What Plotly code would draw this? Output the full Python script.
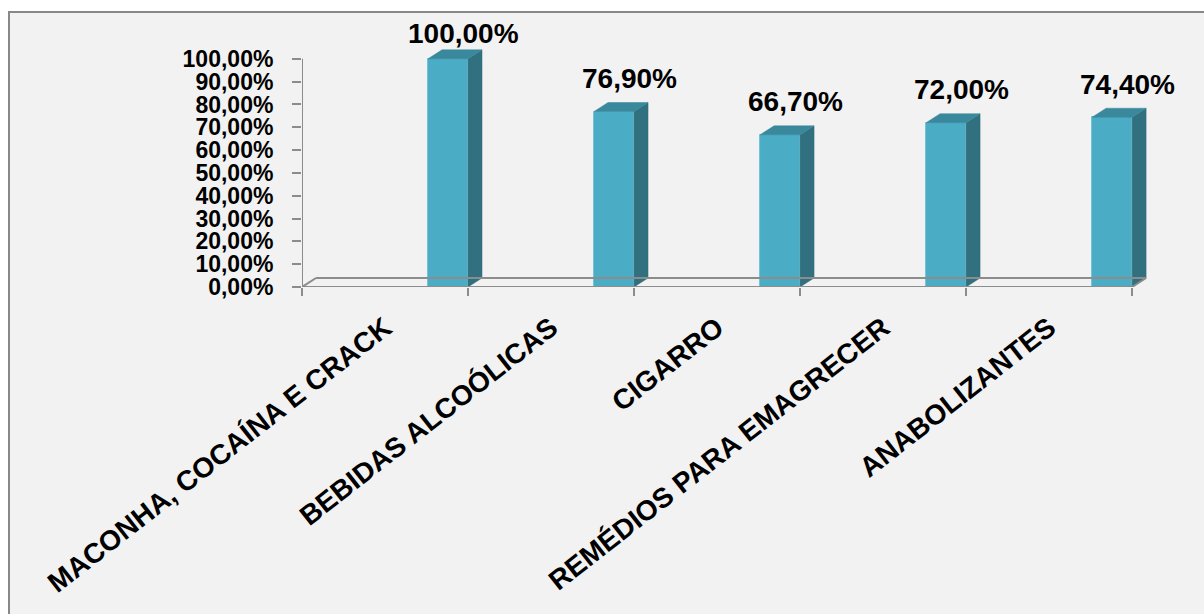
import plotly.graph_objects as go

# Data
categories = ["MACONHA, COCAÍNA E CRACK", "BEBIDAS ALCOÓLICAS", "CIGARRO",
              "REMÉDIOS PARA EMAGRECER", "ANABOLIZANTES"]
values = [100.0, 76.9, 66.7, 72.0, 74.4]
value_labels = ["100,00%", "76,90%", "66,70%", "72,00%", "74,40%"]
y_ticks = [0, 10, 20, 30, 40, 50, 60, 70, 80, 90, 100]
y_tick_labels = ["0,00%", "10,00%", "20,00%", "30,00%", "40,00%", "50,00%",
                 "60,00%", "70,00%", "80,00%", "90,00%", "100,00%"]

# Figure geometry (pixels)
W, H = 1204, 614
ML, MR, MT, MB = 302, 47, 36, 327
X_RANGE = [-0.5, 4.65]
Y_RANGE = [0, 110]
px_x = (W - ML - MR) / (X_RANGE[1] - X_RANGE[0])
px_y = (H - MT - MB) / (Y_RANGE[1] - Y_RANGE[0])

# 3D depth offset of the column blocks, in data units
DX = 14 / px_x
DY = 9 / px_y
BAR_OFFSET = 0.259
BAR_WIDTH = 0.241

FRONT = "#4bacc6"
SIDE = "#31707f"
TOP = "#3a889c"
AXIS = "#8c8c8c"
FONT = "Liberation Sans"

def to_paper_x(px):
    return (px - ML) / (W - ML - MR)

def to_paper_y(py):
    return (H - MB - py) / (H - MT - MB)

fig = go.Figure()

# Floor of the 3D plot
n = len(categories)
x0, x1 = -0.5, n - 0.5
fig.add_trace(go.Scatter(
    x=[x0, x1, None, x0 + DX, x1 + DX, None, x0, x0 + DX, None, x1, x1 + DX],
    y=[0, 0, None, DY, DY, None, 0, DY, None, 0, DY],
    mode="lines", line=dict(color=AXIS, width=2),
    hoverinfo="skip", showlegend=False, xaxis="x2", yaxis="y"))

# Columns: front face, side face and top face
pos = list(range(n))
fig.add_trace(go.Bar(
    x=pos, y=values, offset=BAR_OFFSET, width=BAR_WIDTH,
    marker=dict(color=FRONT, line=dict(color="#5fb9d0", width=0.8)),
    showlegend=False, hoverinfo="skip"))

for i, v in zip(pos, values):
    xl = i + BAR_OFFSET
    xr = xl + BAR_WIDTH
    fig.add_trace(go.Scatter(
        x=[xr, xr, xr + DX, xr + DX, xr], y=[0, v, v + DY, DY, 0],
        mode="lines", fill="toself", fillcolor=SIDE,
        line=dict(color=SIDE, width=0.5), hoverinfo="skip", showlegend=False))
    fig.add_trace(go.Scatter(
        x=[xl, xr, xr + DX, xl + DX, xl], y=[v, v, v + DY, v + DY, v],
        mode="lines", fill="toself", fillcolor=TOP,
        line=dict(color=TOP, width=0.5), hoverinfo="skip", showlegend=False))

# Value labels above each column, kept inside the chart area
for i, v, lab in zip(pos, values, value_labels):
    top_px = (H - MB) - v * px_y
    center_px = max(33, top_px - 33)
    fig.add_annotation(
        x=i + BAR_OFFSET + BAR_WIDTH / 2, y=v, text=lab, showarrow=False,
        xshift=15, yshift=top_px - center_px,
        font=dict(family=FONT, size=28, color="black", weight="bold"))

# Chart frame and background
fig.add_shape(type="rect", xref="paper", yref="paper",
              x0=to_paper_x(9), x1=to_paper_x(1215),
              y0=to_paper_y(625), y1=to_paper_y(12),
              fillcolor="#f2f2f2", line=dict(color="#888888", width=2),
              layer="below")
# Vertical axis line
fig.add_shape(type="line", xref="x", yref="y",
              x0=-0.5, x1=-0.5, y0=-8 / px_y, y1=100,
              line=dict(color=AXIS, width=2))

fig.update_layout(
    width=W, height=H,
    margin=dict(l=ML, r=MR, t=MT, b=MB, pad=0),
    paper_bgcolor="white", plot_bgcolor="rgba(0,0,0,0)",
    bargap=0,
    xaxis=dict(range=X_RANGE, tickvals=pos, ticktext=categories,
               tickangle=-38, ticks="", showline=False, showgrid=False,
               zeroline=False, ticklabelstandoff=18,
               tickfont=dict(family=FONT, size=28, color="black", weight="bold")),
    xaxis2=dict(range=X_RANGE, overlaying="x", anchor="y", side="bottom",
                tickvals=[k - 0.5 for k in range(n + 1)], ticks="outside",
                ticklen=8, tickwidth=2, tickcolor=AXIS, showticklabels=False,
                showline=False, showgrid=False, zeroline=False),
    yaxis=dict(range=Y_RANGE, tickvals=y_ticks, ticktext=y_tick_labels,
               ticks="outside", ticklen=9, tickwidth=2, tickcolor=AXIS,
               showline=False, showgrid=False, zeroline=False,
               ticklabelstandoff=14,
               tickfont=dict(family=FONT, size=23, color="black", weight="bold")),
)

fig.write_html("out.html")
